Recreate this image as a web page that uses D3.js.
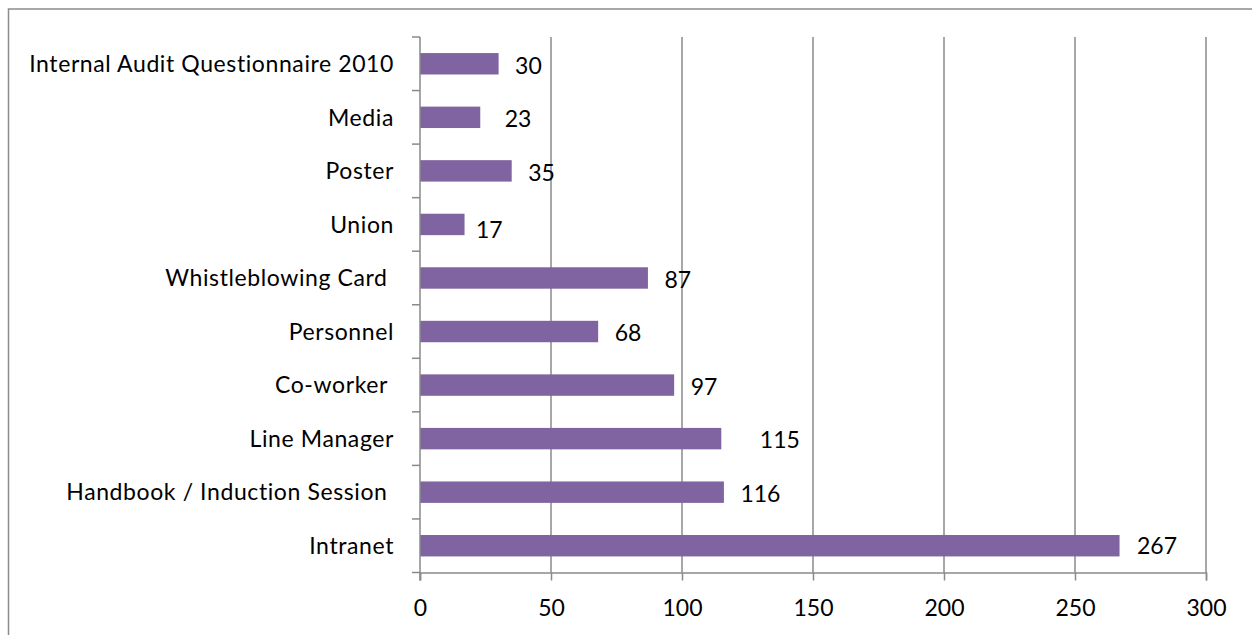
<!DOCTYPE html>
<html>
<head>
<meta charset="utf-8">
<script src="https://cdn.jsdelivr.net/npm/d3@7"></script>
<style>
body{margin:0;background:#fff;}
svg{display:block;font-family:Lato,"Open Sans",sans-serif;}
</style>
</head>
<body>
<div id="chart"></div>
<script>
// categories top to bottom, with the trailing spaces kept as in the sheet
var categories=["Internal Audit Questionnaire 2010","Media","Poster","Union","Whistleblowing Card ","Personnel","Co-worker ","Line Manager","Handbook / Induction Session ","Intranet"];
var values=[30,23,35,17,87,68,97,115,116,267];
var xTicks=[0,50,100,150,200,250,300];

// a few data labels were dragged by hand in the original sheet: [dx, dy]
var labelNudge=[[0,0],[8,0],[0,0],[-5,4],[0,0],[0,0],[0,0],[22,0],[0,0],[1,-1.5]];

var W=1252,H=635;
var plotLeft=420,plotRight=1206,plotTop=37,plotBottom=572.5;
var fontSize=23;

var svg=d3.select("#chart").append("svg")
	.attr("width",W)
	.attr("height",H);

// outer chart border
svg.append("rect")
	.attr("x",8.5).attr("y",9)
	.attr("width",1260).attr("height",640)
	.style("fill","none")
	.style("stroke","#8c8c8c")
	.style("stroke-width","1.5px");

var x=d3.scaleLinear().domain([0,300]).range([plotLeft,plotRight]);
var y=d3.scaleBand().domain(categories).range([plotTop,plotBottom]).paddingInner(0.6).paddingOuter(0.3);

var data=categories.map(function(c,i){return {cat:c,value:values[i],nudge:labelNudge[i]};});

// vertical gridlines
svg.selectAll("line.grid")
	.data(xTicks.slice(1))
	.enter()
	.append("line")
	.attr("class","grid")
	.attr("x1",function(d){return x(d);})
	.attr("x2",function(d){return x(d);})
	.attr("y1",plotTop)
	.attr("y2",plotBottom)
	.style("stroke","#8a8a8a")
	.style("stroke-width","1.5px");

// bars
svg.selectAll("rect.bar")
	.data(data)
	.enter()
	.append("rect")
	.attr("class","bar")
	.attr("x",x(0))
	.attr("y",function(d){return y(d.cat);})
	.attr("width",function(d){return x(d.value)-x(0);})
	.attr("height",y.bandwidth())
	.style("fill","#8064a2");

// value labels
svg.selectAll("text.val")
	.data(data)
	.enter()
	.append("text")
	.attr("class","val")
	.attr("x",function(d){return x(d.value)+16.5+d.nudge[0];})
	.attr("y",function(d){return y(d.cat)+y.bandwidth()/2+9.8+d.nudge[1];})
	.style("font-size",fontSize+"px")
	.style("fill","#000")
	.text(function(d){return d.value;});

// x axis
var xAxis=svg.append("g")
	.attr("transform","translate(0,"+plotBottom+")")
	.call(d3.axisBottom(x).tickValues(xTicks).tickSize(8));
xAxis.select(".domain").style("stroke","#8a8a8a").style("stroke-width","1.5px");
xAxis.selectAll(".tick line").style("stroke","#8a8a8a").style("stroke-width","1.5px");
xAxis.selectAll("text")
	.attr("y",43.5)
	.attr("dy",0)
	.style("font-size",fontSize+"px")
	.style("font-family","Lato,'Open Sans',sans-serif")
	.style("fill","#000");

// y axis: ticks sit at the category boundaries
var step=y.step();
var bounds=d3.range(categories.length+1).map(function(i){return plotTop+i*step;});
svg.append("line")
	.attr("x1",plotLeft).attr("x2",plotLeft)
	.attr("y1",plotTop).attr("y2",plotBottom+8)
	.style("stroke","#8a8a8a")
	.style("stroke-width","1.5px");
svg.selectAll("line.ytick")
	.data(bounds)
	.enter()
	.append("line")
	.attr("class","ytick")
	.attr("x1",plotLeft-8).attr("x2",plotLeft)
	.attr("y1",function(d){return d;})
	.attr("y2",function(d){return d;})
	.style("stroke","#8a8a8a")
	.style("stroke-width","1.5px");

svg.selectAll("text.cat")
	.data(data)
	.enter()
	.append("text")
	.attr("class","cat")
	.attr("x",plotLeft-26)
	.attr("y",function(d){return y(d.cat)+y.bandwidth()/2+8.3;})
	.attr("text-anchor","end")
	.style("white-space","pre")
	.style("letter-spacing","0.6px")
	.style("font-size",fontSize+"px")
	.style("fill","#000")
	.text(function(d){return d.cat;});
</script>
</body>
</html>
